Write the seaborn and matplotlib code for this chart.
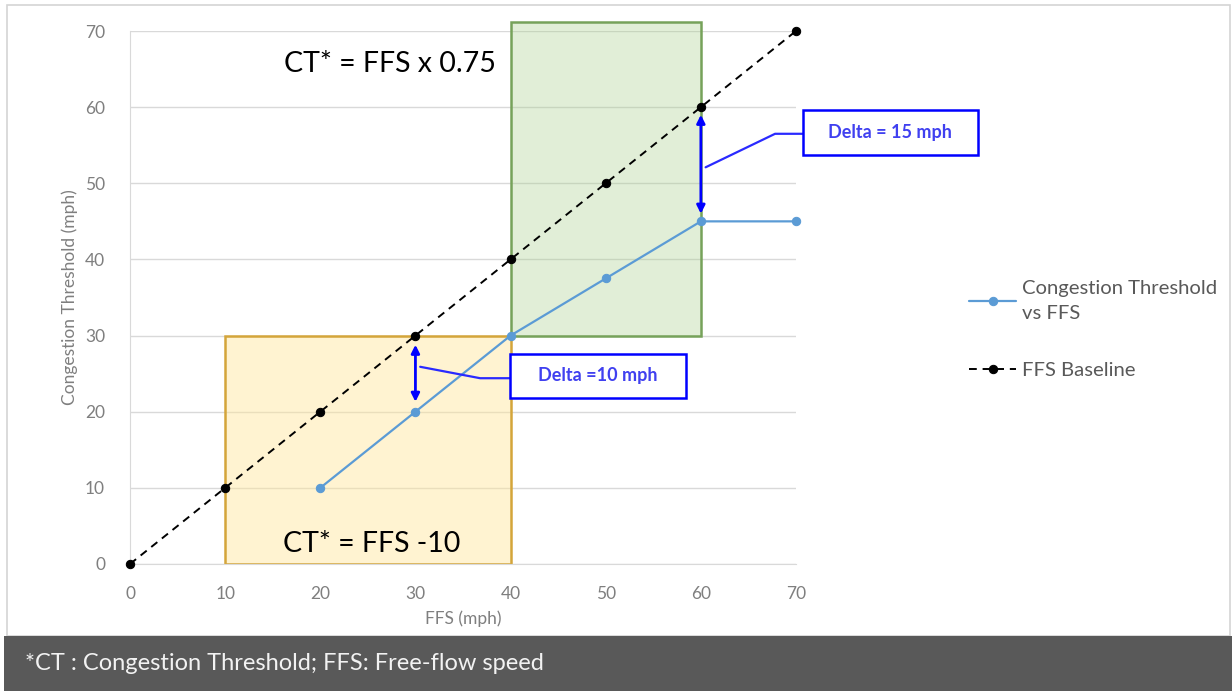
import numpy as np
import pandas as pd
import matplotlib.pyplot as plt
from matplotlib.patches import Rectangle
import seaborn as sns

# data
ct_ffs = [20, 30, 40, 50, 60, 70]
ct_values = [10, 20, 30, 37.5, 45, 45]
base_ffs = [0, 10, 20, 30, 40, 50, 60, 70]
base_values = [0, 10, 20, 30, 40, 50, 60, 70]
ticks = [0, 10, 20, 30, 40, 50, 60, 70]

# shaded regimes (x range, y range)
low_x, low_y = (10, 40), (0, 30)
high_x, high_y = (40, 60), (30, 71.2)

sns.set_style("white")
plt.rcParams["font.family"] = ["Lato", "DejaVu Sans"]

fig = plt.figure(figsize=(12.32, 6.91), dpi=100)
W, H = 1232, 691
ax = fig.add_axes([130 / W, 1 - 564 / H, 666 / W, 533 / H])

# outer frame and footer band
fig.patches.append(Rectangle((7 / W, 55 / H), 1 - 9 / W, 1 - 60 / H, transform=fig.transFigure,
                             fill=False, edgecolor="#d4d4d4", lw=1.2, zorder=0))
fig.patches.append(Rectangle((4 / W, 0), 1, 55 / H, transform=fig.transFigure,
                             facecolor="#595959", edgecolor="none", zorder=0))
fig.text(25 / W, 28 / H, "*CT : Congestion Threshold; FFS: Free-flow speed",
         color="#f2f2f2", fontsize=17, va="center", ha="left")

df_ct = pd.DataFrame({"FFS": ct_ffs, "CT": ct_values})
df_base = pd.DataFrame({"FFS": base_ffs, "CT": base_values})

sns.lineplot(data=df_ct, x="FFS", y="CT", ax=ax, color="#5b9bd5", lw=1.6,
             marker="o", markersize=6, markeredgecolor="#5b9bd5",
             label="Congestion Threshold\nvs FFS", clip_on=False, zorder=4)
sns.lineplot(data=df_base, x="FFS", y="CT", ax=ax, color="black", lw=1.4,
             linestyle=(0, (4, 3)), marker="o", markersize=6, markeredgecolor="black",
             label="FFS Baseline", clip_on=False, zorder=5)

# regime boxes
ax.add_patch(Rectangle((low_x[0], low_y[0]), low_x[1] - low_x[0], low_y[1] - low_y[0],
                       facecolor="#ffe699", alpha=0.45, edgecolor="none", zorder=2))
ax.add_patch(Rectangle((low_x[0], low_y[0]), low_x[1] - low_x[0], low_y[1] - low_y[0],
                       fill=False, edgecolor="#d4a53a", lw=1.8, zorder=2.5))
ax.add_patch(Rectangle((high_x[0], high_y[0]), high_x[1] - high_x[0], high_y[1] - high_y[0],
                       facecolor="#a9d08e", alpha=0.35, edgecolor="none", zorder=2, clip_on=False))
ax.add_patch(Rectangle((high_x[0], high_y[0]), high_x[1] - high_x[0], high_y[1] - high_y[0],
                       fill=False, edgecolor="#76a25a", lw=1.8, zorder=2.5, clip_on=False))

ax.text(27.3, 65.7, "CT* = FFS x 0.75", fontsize=20.5, ha="center", va="center", color="black")
ax.text(25.4, 2.6, "CT* = FFS -10", fontsize=20.5, ha="center", va="center", color="black", zorder=6)

# delta arrows
arrow = dict(arrowstyle="<|-|>", color="#0000ff", lw=2, mutation_scale=12, shrinkA=0, shrinkB=0)
ax.annotate("", xy=(30, 21.3), xytext=(30, 28.8), arrowprops=arrow, zorder=6)
ax.annotate("", xy=(60, 46.0), xytext=(60, 59.0), arrowprops=arrow, zorder=6)

# callouts
callouts = [
    ("Delta =10 mph", (39.95, 21.8, 18.45, 5.8), [(30.5, 25.9), (36.8, 24.4), (39.95, 24.4)]),
    ("Delta = 15 mph", (70.7, 53.7, 18.4, 5.9), [(60.5, 52.1), (67.8, 56.5), (70.7, 56.5)]),
]
for label, (bx, by, bw, bh), leader in callouts:
    ax.add_patch(Rectangle((bx, by), bw, bh, facecolor="white", edgecolor="#0000ff",
                           lw=1.8, zorder=7, clip_on=False))
    lx, ly = zip(*leader)
    ax.plot(lx, ly, color="#2a2aff", lw=1.6, zorder=6, clip_on=False)
    ax.text(bx + bw / 2, by + bh / 2, label, color="#4040f0", fontsize=13, fontweight="bold",
            ha="center", va="center", zorder=8, clip_on=False)

ax.set_xlim(0, 70)
ax.set_ylim(0, 70)
ax.set_xticks(ticks)
ax.set_yticks(ticks)
ax.yaxis.grid(True, color="#d9d9d9", lw=1)
ax.xaxis.grid(False)
ax.set_axisbelow(True)
for s in ["top", "right"]:
    ax.spines[s].set_visible(False)
ax.spines["left"].set_color("#d9d9d9")
ax.spines["bottom"].set_color("#d9d9d9")
ax.tick_params(length=0, labelsize=12.5, labelcolor="#7f7f7f")
ax.tick_params(axis="y", pad=18)
ax.tick_params(axis="x", pad=16)
ax.set_xlabel("FFS (mph)", fontsize=12.5, color="#7f7f7f", labelpad=6)
ax.set_ylabel("Congestion Threshold (mph)", fontsize=12.5, color="#7f7f7f", labelpad=5)

handles, labels = ax.get_legend_handles_labels()
ax.get_legend().remove()
leg = fig.legend(handles, labels, loc="upper left", bbox_to_anchor=(951 / W, 1 - 262 / H),
                 frameon=False, fontsize=14.6, labelcolor="#595959", handlelength=2.3,
                 labelspacing=1.95, handletextpad=0.3)
for t in leg.get_texts():
    t.set_linespacing(1.55)

fig.savefig("out.png", dpi=100)
